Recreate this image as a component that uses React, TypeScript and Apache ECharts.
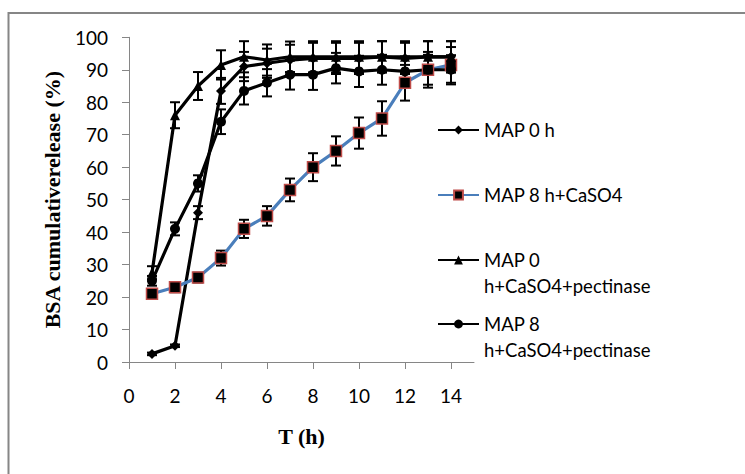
import React, { useEffect, useRef } from 'react';
import * as echarts from 'echarts';

const hours = [1, 2, 3, 4, 5, 6, 7, 8, 9, 10, 11, 12, 13, 14];
const xTickValues = [0, 2, 4, 6, 8, 10, 12, 14];

const seriesNames = [
  'MAP 0 h',
  'MAP 8 h+CaSO4',
  'MAP 0 h+CaSO4+pectinase',
  'MAP 8 h+CaSO4+pectinase',
];
const legendTexts = [
  'MAP 0 h',
  'MAP 8 h+CaSO4',
  ' \nMAP 0\nh+CaSO4+pectinase',
  ' \nMAP 8\nh+CaSO4+pectinase',
];

const map0h = [2.5, 5, 46, 83.5, 91, 92, 93, 93.5, 93.5, 93.5, 94, 93.5, 94, 94];
const map0hErr = [0.4, 0.4, 2, 4, 4.5, 4.5, 4.7, 4.8, 4.8, 4.8, 4.8, 4.8, 4.8, 4.8];

const map8hCa = [21, 23, 26, 32, 41, 45, 53, 60, 65, 70.5, 75, 86, 90, 91.5];
const map8hCaErr = [1.5, 1.5, 1.5, 2.3, 2.8, 3, 3.5, 4.3, 4.5, 4.8, 5.3, 5.5, 5.5, 5.5];

const map0hCaPec = [27.5, 76, 85, 91.5, 94, 93, 94, 94, 94, 94, 94, 94, 94, 94];
const map0hCaPecErr = [2, 4, 4.3, 4.5, 4.8, 4.8, 4.7, 4.8, 4.8, 4.8, 4.8, 4.8, 4.8, 4.8];

const map8hCaPec = [25, 41, 55, 74, 83.5, 86, 88.5, 88.5, 90.5, 89.5, 90, 89.5, 90, 90];
const map8hCaPecErr = [1.5, 2, 2.5, 3.8, 4.2, 4.2, 4.6, 4.7, 4.7, 4.8, 4.6, 4.6, 4.6, 4.5];

const valuesList = [map0h, map8hCa, map0hCaPec, map8hCaPec];
const errList = [map0hErr, map8hCaErr, map0hCaPecErr, map8hCaPecErr];

const symbols = ['diamond', 'rect', 'triangle', 'circle'];
const symbolSizes = [10, 11, 10, 10];
const lineColors = ['#000000', '#4a7ebb', '#000000', '#000000'];
const fillColors = ['#000000', '#000000', '#000000', '#000000'];
const borderColors = ['#000000', '#be4b48', '#000000', '#000000'];
const legendCenters = [130, 195, 260, 324];

const FONT = 'Lato, "Noto Sans", sans-serif';
const SERIF = '"Liberation Serif", "Times New Roman", serif';

export default function App() {
  const ref = useRef<HTMLDivElement>(null);
  useEffect(() => {
    document.body.style.margin = '0';
    const chart = echarts.init(ref.current as HTMLDivElement, null, { renderer: 'svg' });

    const errorSeries = valuesList.map((vals, si) => ({
      type: 'custom',
      name: seriesNames[si] + ' err',
      data: hours.map((h, i) => [h, vals[i], errList[si][i]]),
      encode: { x: 0, y: 1 },
      silent: true,
      z: 2,
      renderItem: (params: any, api: any) => {
        const x = api.value(0);
        const y = api.value(1);
        const e = api.value(2);
        const p1 = api.coord([x, y + e]);
        const p2 = api.coord([x, y - e]);
        const w = 5;
        const st = { stroke: '#000', lineWidth: 2 };
        return {
          type: 'group',
          children: [
            { type: 'line', shape: { x1: p1[0], y1: p1[1], x2: p2[0], y2: p2[1] }, style: st },
            { type: 'line', shape: { x1: p1[0] - w, y1: p1[1], x2: p1[0] + w, y2: p1[1] }, style: st },
            { type: 'line', shape: { x1: p2[0] - w, y1: p2[1], x2: p2[0] + w, y2: p2[1] }, style: st },
          ],
        };
      },
    }));

    const lineSeries = valuesList.map((vals, si) => ({
      type: 'line',
      name: seriesNames[si],
      data: hours.map((h, i) => [h, vals[i]]),
      symbol: symbols[si],
      symbolSize: symbolSizes[si],
      showAllSymbol: true,
      z: 3,
      lineStyle: { color: lineColors[si], width: 3.2 },
      itemStyle: {
        color: fillColors[si],
        borderColor: borderColors[si],
        borderWidth: si === 1 ? 1.5 : 0,
      },
    }));

    const series: any[] = [];
    for (let i = 0; i < 4; i++) {
      series.push(errorSeries[i]);
      series.push(lineSeries[i]);
    }

    const legends = seriesNames.map((n, i) => {
      const multi = legendTexts[i].includes('\n');
      return {
        data: [{ name: n }],
        orient: 'vertical',
        left: 437,
        top: multi ? legendCenters[i] - 39 : legendCenters[i] - 13,
        padding: 0,
        itemWidth: 41,
        itemHeight: 11,
        itemGap: 0,
        selectedMode: false,
        formatter: () => legendTexts[i],
        textStyle: {
          fontFamily: FONT,
          fontSize: 18.5,
          color: '#000',
          lineHeight: 26,
        },
      };
    });

    const option: any = {
      animation: false,
      backgroundColor: '#ffffff',
      graphic: [
        {
          type: 'rect',
          shape: { x: 8.5, y: 13, width: 800, height: 520 },
          style: { fill: 'none', stroke: '#868686', lineWidth: 2 },
          silent: true,
          z: 0,
        },
      ],
      legend: legends,
      grid: { left: 129, right: 271, top: 37.3, bottom: 112, containLabel: false },
      xAxis: {
        type: 'value',
        min: 0,
        max: 15,
        interval: 1,
        name: 'T (h)',
        nameLocation: 'middle',
        nameGap: 63,
        nameTextStyle: { fontFamily: SERIF, fontWeight: 'bold', fontSize: 22, color: '#000' },
        axisLine: { show: true, lineStyle: { color: '#868686', width: 1 } },
        axisTick: { show: true, length: 7, lineStyle: { color: '#868686' }, customValues: xTickValues },
        axisLabel: {
          customValues: xTickValues,
          margin: 24,
          fontFamily: FONT,
          fontSize: 19,
          color: '#000',
        },
        splitLine: { show: false },
      },
      yAxis: {
        type: 'value',
        min: 0,
        max: 100,
        interval: 10,
        name: 'BSA cumulativerelease (%)',
        nameLocation: 'middle',
        nameGap: 66,
        nameTextStyle: { fontFamily: SERIF, fontWeight: 'bold', fontSize: 22, color: '#000' },
        axisLine: { show: true, lineStyle: { color: '#868686', width: 1 } },
        axisTick: { show: true, length: 7, lineStyle: { color: '#868686' } },
        axisLabel: { margin: 21, fontFamily: FONT, fontSize: 19, color: '#000' },
        splitLine: { show: false },
      },
      series,
    };

    chart.setOption(option);
    return () => chart.dispose();
  }, []);
  return <div ref={ref} style={{ width: 745, height: 474, position: 'absolute', left: 0, top: 0 }} />;
}
